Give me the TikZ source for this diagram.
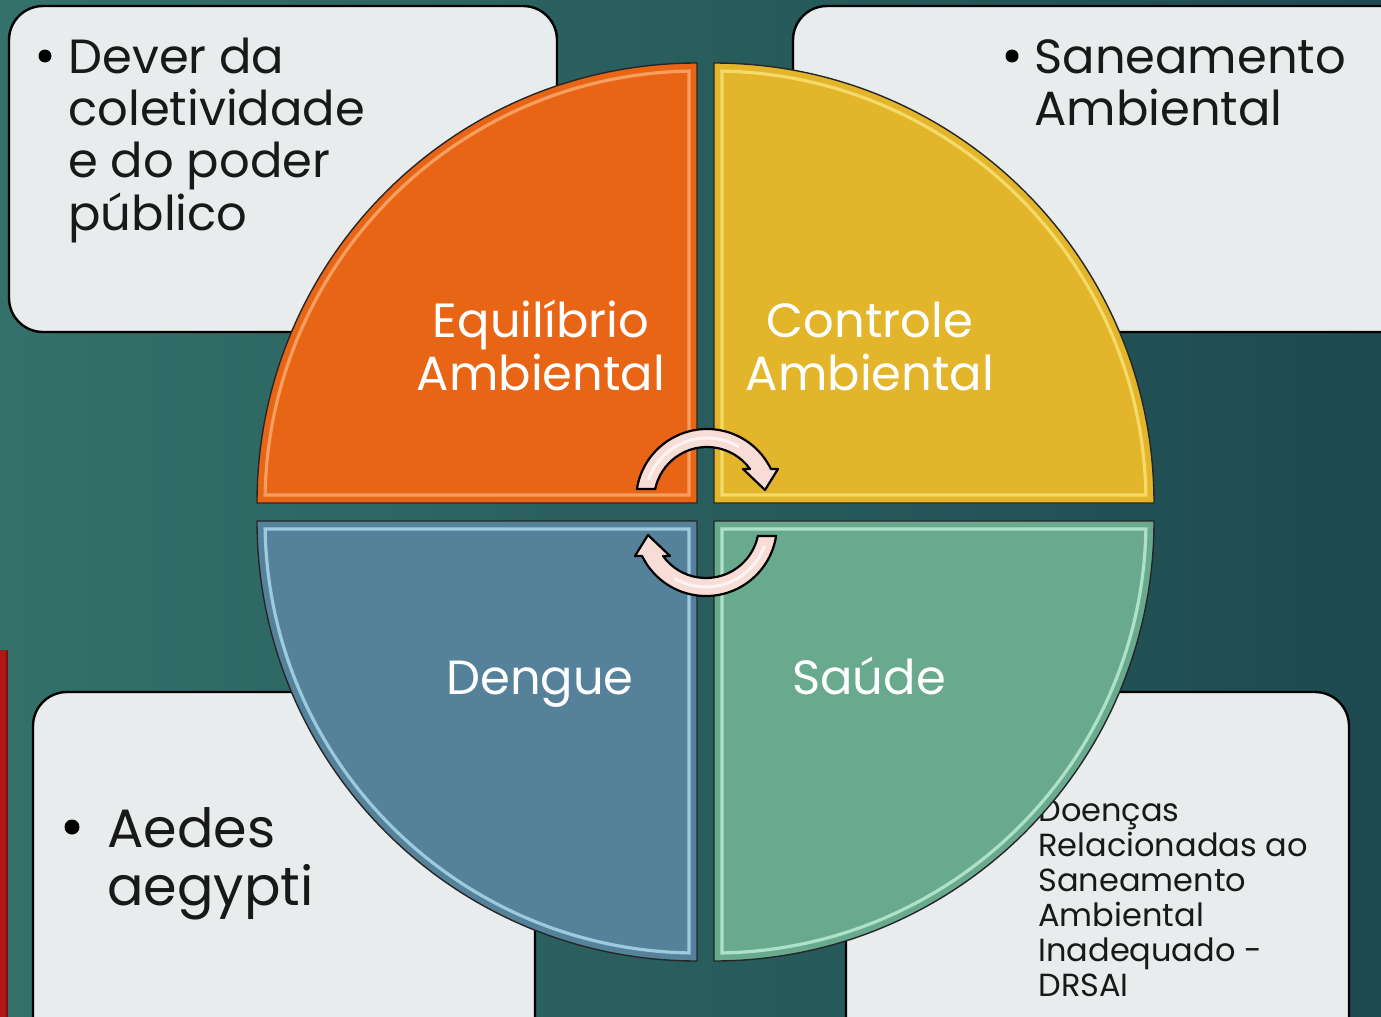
\documentclass[tikz,border=0pt]{standalone}
\usepackage{fontspec}
\setmainfont{Poppins}
\definecolor{bgA}{HTML}{33716A}
\definecolor{bgB}{HTML}{1D4950}
\definecolor{boxfill}{HTML}{E8ECEC}
\definecolor{qorange}{HTML}{E86515}
\definecolor{qorangeL}{HTML}{FBB27A}
\definecolor{qyellow}{HTML}{E3B52A}
\definecolor{qyellowL}{HTML}{FBE77E}
\definecolor{qblue}{HTML}{55829A}
\definecolor{qblueL}{HTML}{B5E4F5}
\definecolor{qgreen}{HTML}{69AA8E}
\definecolor{qgreenL}{HTML}{C4F5DE}
\definecolor{arrowfill}{HTML}{F7DDD6}
\definecolor{redbar}{HTML}{B01818}
\begin{document}
\begin{tikzpicture}[x=0.5pt,y=-0.5pt,
  infobox/.style={draw=black, line width=1.2pt, fill=boxfill, rounded corners=17pt},
  quarter/.style={draw=black!85, line width=0.7pt},
  bevel/.style={line width=1.6pt, opacity=0.75},
  boxtext/.style={inner sep=0pt, text=black!90},
  bulletdot/.style={circle, fill=black, inner sep=0pt, minimum size=6.5pt},
  qlabel/.style={inner sep=0pt, text=white},
  cyclearrow/.style={draw=black, line width=1.1pt, fill=arrowfill, line join=round}
]
\clip (0,0) rectangle (1381,1017);
\shade[left color=bgA, right color=bgB] (0,0) rectangle (1381,1017);
\fill[redbar] (0,650) rectangle (8,1017);
\fill[redbar!70!black] (6,650) rectangle (8,1017);

% corner boxes
\draw[infobox] (9,6) rectangle (557,332);
\draw[infobox] (793,6) rectangle (1420,332);
\draw[infobox] (33,692) rectangle (535,1060);
\draw[infobox] (846,692) rectangle (1349,1060);

% box texts
\node[bulletdot] (b1) at (45,56) {};
\node[boxtext, anchor=base west, font=\fontsize{24}{26}\selectfont] (t1) at (68,73)
  {\begin{tabular}[t]{@{}l@{}}Dever da\\coletividade\\e do poder\\público\end{tabular}};
\node[bulletdot] (b2) at (1012,56) {};
\node[boxtext, anchor=base west, font=\fontsize{24}{26}\selectfont] (t2) at (1034,73)
  {\begin{tabular}[t]{@{}l@{}}Saneamento\\Ambiental\end{tabular}};
\node[bulletdot, minimum size=7.5pt] (b3) at (72,827) {};
\node[boxtext, anchor=base west, font=\fontsize{27}{29}\selectfont] (t3) at (107,847)
  {\begin{tabular}[t]{@{}l@{}}Aedes\\aegypti\end{tabular}};
\node[boxtext, anchor=base west, font=\fontsize{16}{17.5}\selectfont] (t4) at (1038,821)
  {\begin{tabular}[t]{@{}l@{}}Doenças\\Relacionadas ao\\Saneamento\\Ambiental\\Inadequado -\\DRSAI\end{tabular}};

% quarters
\path[quarter, fill=qorange] (697,503) -- (257,503) arc[start angle=180, end angle=270, radius=440] -- cycle;
\draw[bevel, qorangeL] (689,495) -- (265.1,495) arc[start angle=181.06, end angle=268.94, radius=432] -- cycle;
\path[quarter, fill=qyellow] (714,503) -- (1154,503) arc[start angle=0, end angle=-90, radius=440] -- cycle;
\draw[bevel, qyellowL] (722,495) -- (1145.9,495) arc[start angle=-1.06, end angle=-88.94, radius=432] -- cycle;
\path[quarter, fill=qblue] (697,521) -- (257,521) arc[start angle=180, end angle=90, radius=440] -- cycle;
\draw[bevel, qblueL] (689,529) -- (265.1,529) arc[start angle=178.94, end angle=91.06, radius=432] -- cycle;
\path[quarter, fill=qgreen] (714,521) -- (1154,521) arc[start angle=0, end angle=90, radius=440] -- cycle;
\draw[bevel, qgreenL] (722,529) -- (1145.9,529) arc[start angle=1.06, end angle=88.94, radius=432] -- cycle;

% quarter labels
\node[qlabel, anchor=base, font=\fontsize{24}{26.5}\selectfont] (q1) at (541,337)
  {\begin{tabular}[t]{@{}c@{}}Equilíbrio\\Ambiental\end{tabular}};
\node[qlabel, anchor=base, font=\fontsize{24}{26.5}\selectfont] (q2) at (870,337)
  {\begin{tabular}[t]{@{}c@{}}Controle\\Ambiental\end{tabular}};
\node[qlabel, anchor=base, font=\fontsize{24}{26.5}\selectfont] (q3) at (540,694) {Dengue};
\node[qlabel, anchor=base, font=\fontsize{24}{26.5}\selectfont] (q4) at (869,694) {Saúde};

% cycle arrows
\newcommand\cycarrowpath{(636.9,489) arc[start angle=188.9, end angle=334.1, radius=71]
  -- (778,469) -- (765,490) -- (743,469) -- (750,469)
  arc[start angle=324.2, end angle=192, radius=53] -- cycle}
\draw[cyclearrow] \cycarrowpath;
\draw[white, line width=1.5pt, opacity=0.7, line cap=round] (707,500) ++(200:62) arc[start angle=200, end angle=300, radius=62];
\begin{scope}[rotate around={180:(706.5,512.5)}]
\draw[cyclearrow] \cycarrowpath;
\draw[white, line width=1.5pt, opacity=0.7, line cap=round] (707,500) ++(200:62) arc[start angle=200, end angle=300, radius=62];
\end{scope}
\end{tikzpicture}
\end{document}
